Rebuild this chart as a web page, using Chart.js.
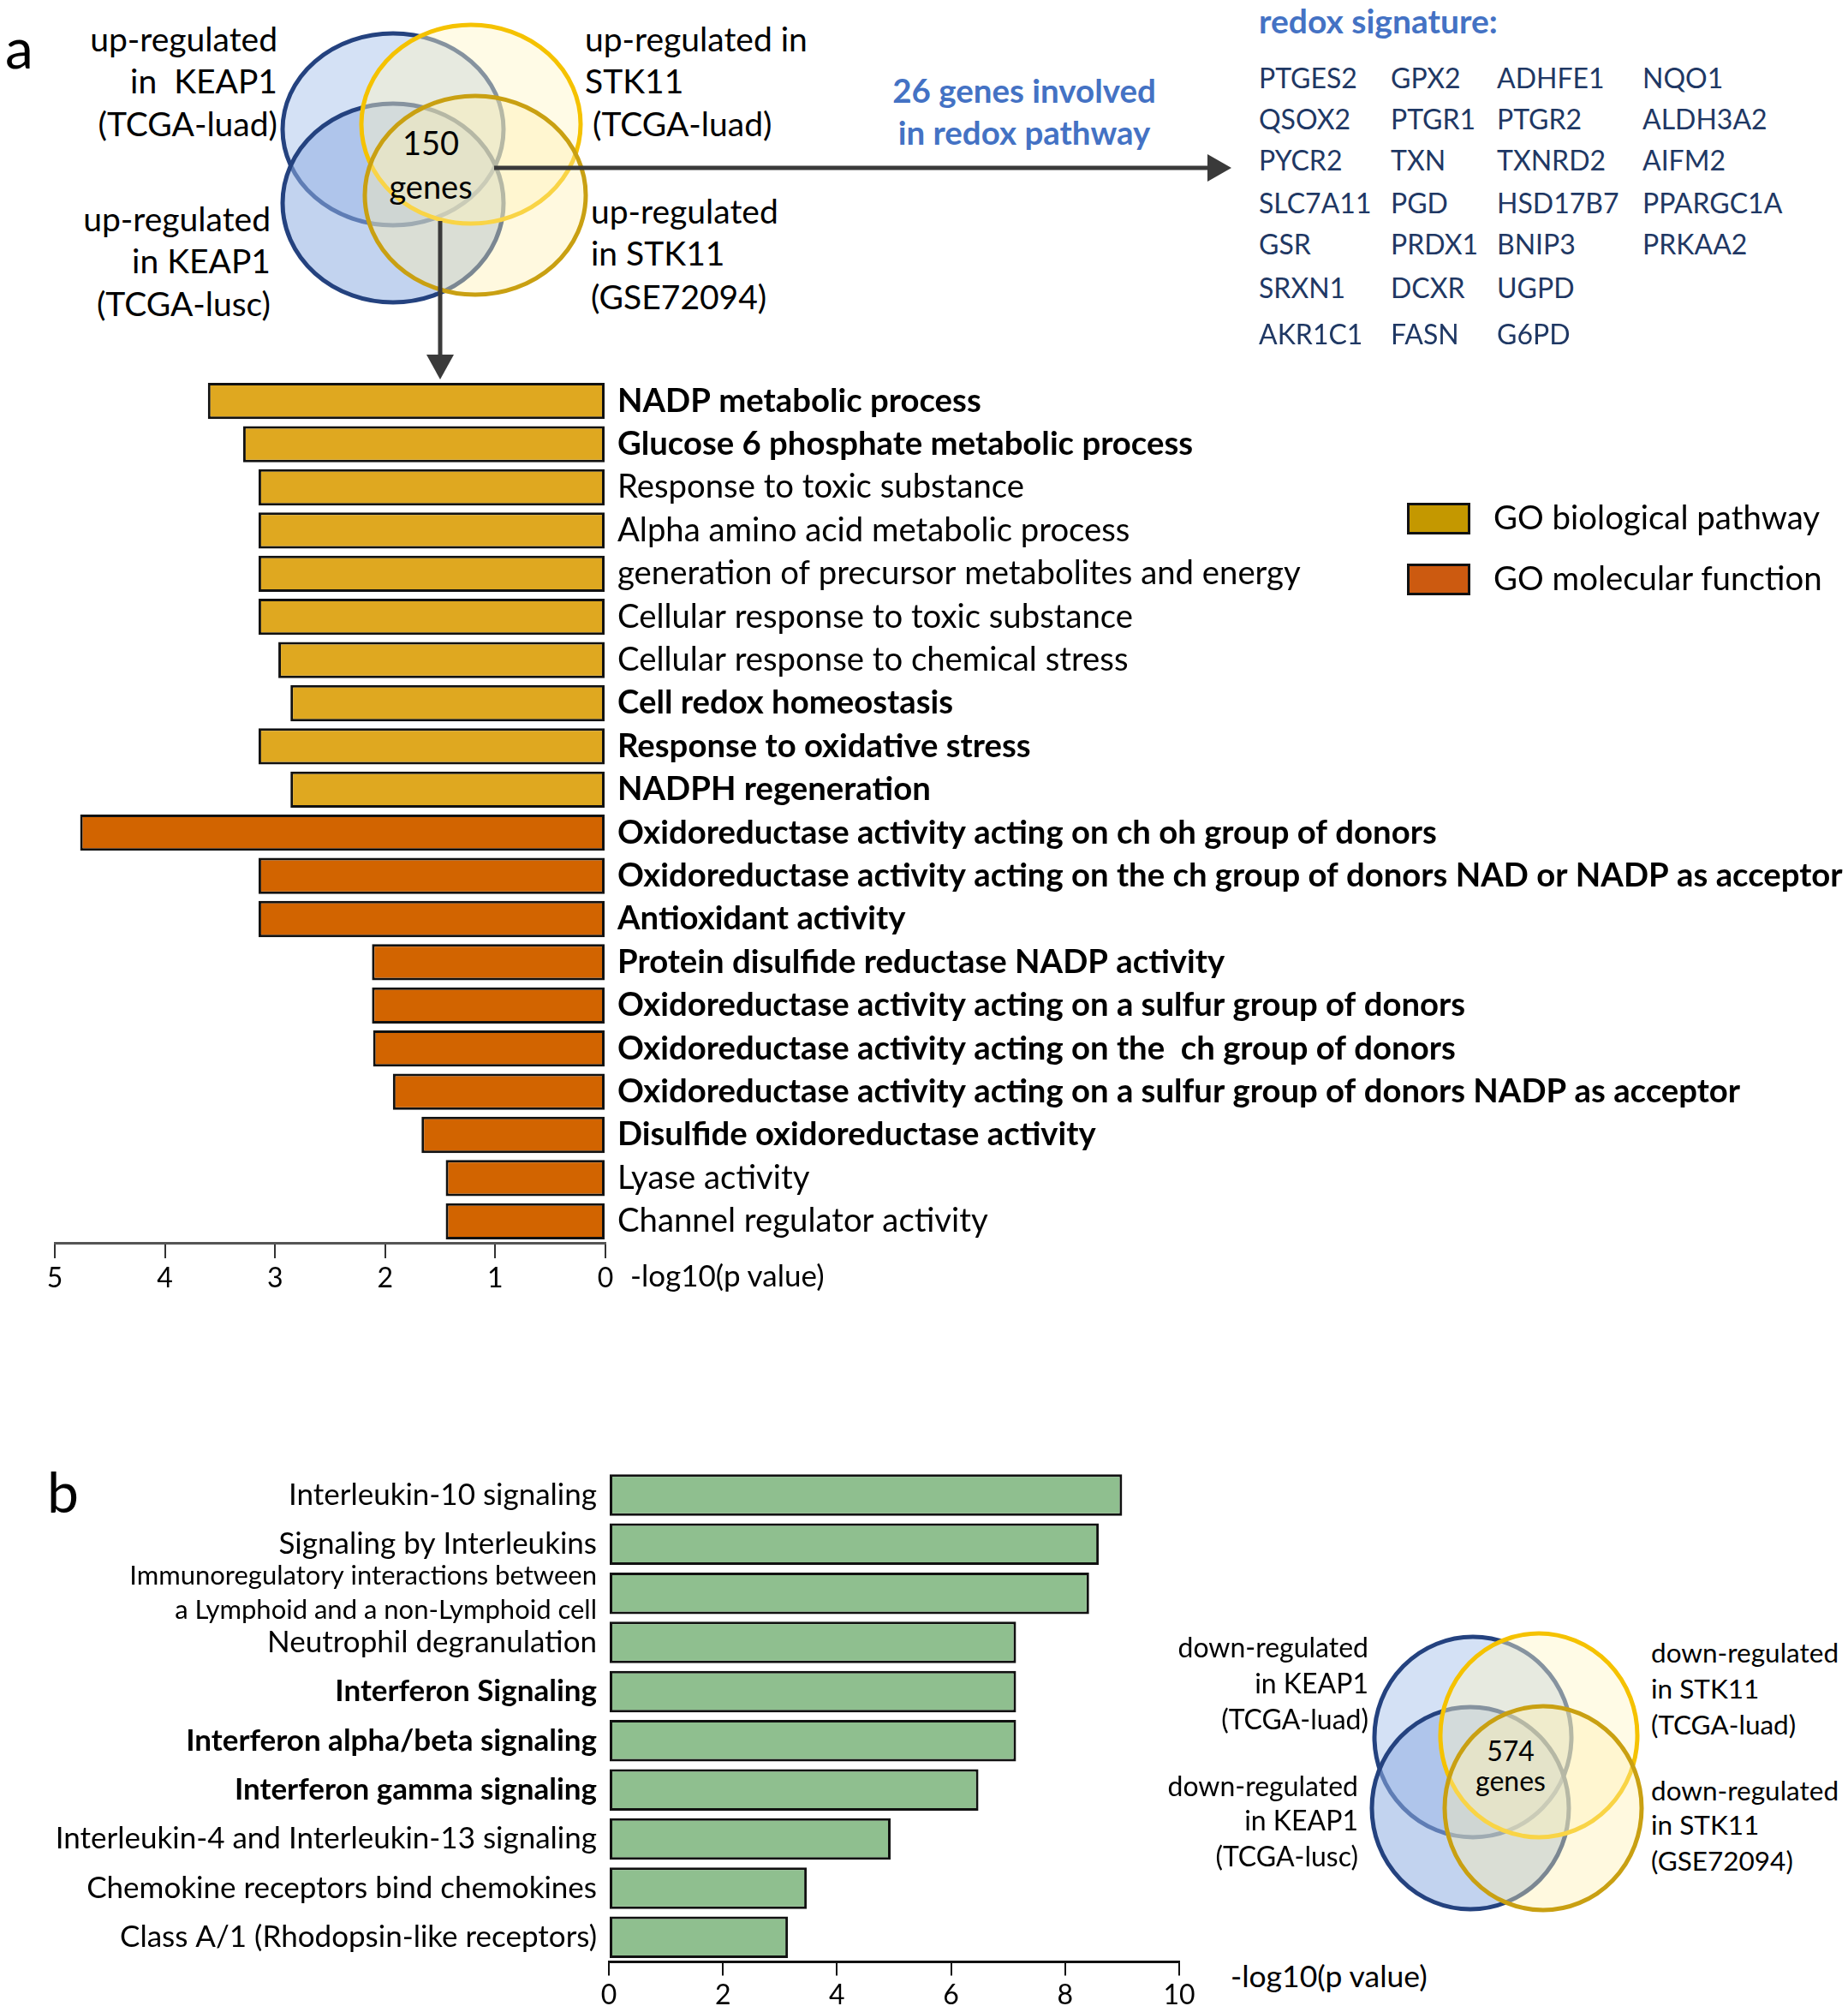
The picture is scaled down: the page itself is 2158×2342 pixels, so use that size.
<!DOCTYPE html>
<html>
<head>
<meta charset="utf-8">
<script src="https://cdn.jsdelivr.net/npm/chart.js@4.4.1/dist/chart.umd.min.js"></script>
<style>
  html, body { margin: 0; padding: 0; background: #fff; }
  #page { position: relative; width: 2158px; height: 2342px; overflow: hidden; background: #fff; font-family: Lato, "Open Sans", sans-serif; }
  .t { position: absolute; white-space: pre; line-height: 1; color: #000; }
  .wrap { position: absolute; }
  svg { position: absolute; left: 0; top: 0; }
</style>
</head>
<body>
<div id="page">
  <svg id="deco" width="2158" height="2342"></svg>
  <div class="wrap" id="wa" style="left:0px;top:400px;width:2158px;height:1150px;"><canvas id="ca" width="2158" height="1150"></canvas></div>
  <div class="wrap" id="wb" style="left:0px;top:1680px;width:1420px;height:662px;"><canvas id="cb" width="1420" height="662"></canvas></div>
</div>
<script>
// ---------------- DATA ----------------
const catsA = [
  "NADP metabolic process",
  "Glucose 6 phosphate metabolic process",
  "Response to toxic substance",
  "Alpha amino acid metabolic process",
  "generation of precursor metabolites and energy",
  "Cellular response to toxic substance",
  "Cellular response to chemical stress",
  "Cell redox homeostasis",
  "Response to oxidative stress",
  "NADPH regeneration",
  "Oxidoreductase activity acting on ch oh group of donors",
  "Oxidoreductase activity acting on the ch group of donors NAD or NADP as acceptor",
  "Antioxidant activity",
  "Protein disulfide reductase NADP activity",
  "Oxidoreductase activity acting on a sulfur group of donors",
  "Oxidoreductase activity acting on the  ch group of donors",
  "Oxidoreductase activity acting on a sulfur group of donors NADP as acceptor",
  "Disulfide oxidoreductase activity",
  "Lyase activity",
  "Channel regulator activity"
];
const valsA = [3.61, 3.29, 3.15, 3.15, 3.15, 3.15, 2.97, 2.86, 3.15, 2.86,
               4.77, 3.15, 3.15, 2.12, 2.12, 2.11, 1.93, 1.67, 1.45, 1.45];
const groupA = ["bio","bio","bio","bio","bio","bio","bio","bio","bio","bio",
                "mol","mol","mol","mol","mol","mol","mol","mol","mol","mol"];
const boldA = [1,1,0,0,0,0,0,1,1,1, 1,1,1,1,1,1,1,1,0,0];
const legendA = ["GO biological pathway", "GO molecular function"];
const ticksA = [0, 1, 2, 3, 4, 5];

const catsB = [
  "Interleukin-10 signaling",
  "Signaling by Interleukins",
  ["Immunoregulatory interactions between", "a Lymphoid and a non-Lymphoid cell"],
  "Neutrophil degranulation",
  "Interferon Signaling",
  "Interferon alpha/beta signaling",
  "Interferon gamma signaling",
  "Interleukin-4 and Interleukin-13 signaling",
  "Chemokine receptors bind chemokines",
  "Class A/1 (Rhodopsin-like receptors)"
];
const valsB = [9.0, 8.59, 8.42, 7.14, 7.14, 7.14, 6.48, 4.94, 3.47, 3.14];
const boldB = [0,0,0,0,1,1,1,0,0,0];
const ticksB = [0, 2, 4, 6, 8, 10];

const redoxGenes = [
  ["PTGES2","GPX2","ADHFE1","NQO1"],
  ["QSOX2","PTGR1","PTGR2","ALDH3A2"],
  ["PYCR2","TXN","TXNRD2","AIFM2"],
  ["SLC7A11","PGD","HSD17B7","PPARGC1A"],
  ["GSR","PRDX1","BNIP3","PRKAA2"],
  ["SRXN1","DCXR","UGPD"],
  ["AKR1C1","FASN","G6PD"]
];

// ---------------- STYLE ----------------
const COL = { bio: "#DFA820", mol: "#D26400" };
const LEG = { bio: "#C49800", mol: "#CC5A10" };
const GREEN = "#8FBF8F";
const BLUE_TXT = "#4472C4";
const NAVY_TXT = "#1F3864";

const page = document.getElementById("page");
function txt(s, x, y, o) {
  o = o || {};
  const d = document.createElement("div");
  d.className = "t";
  d.textContent = s;
  d.style.left = x + "px";
  d.style.top = (y - 3) + "px";
  d.style.fontSize = (o.size || 36) + "px";
  d.style.fontWeight = o.weight || "normal";
  if (o.color) d.style.color = o.color;
  const tx = o.align === "right" ? "-100%" : (o.align === "center" ? "-50%" : "0");
  d.style.transform = "translate(" + tx + ",-50%)";
  page.appendChild(d);
}

// --------------- SVG decorations (Venn diagrams, arrows) ---------------
const svg = document.getElementById("deco");
const NS = "http://www.w3.org/2000/svg";
function ell(cx, cy, rx, ry, fill, fop, stroke) {
  const e = document.createElementNS(NS, "ellipse");
  e.setAttribute("cx", cx); e.setAttribute("cy", cy);
  e.setAttribute("rx", rx); e.setAttribute("ry", ry);
  e.setAttribute("fill", fill); e.setAttribute("fill-opacity", fop);
  e.setAttribute("stroke", stroke); e.setAttribute("stroke-width", 5);
  svg.appendChild(e);
}
function venn(b1, b2, y1, y2) {
  ell(b1[0], b1[1], b1[2], b1[3], "#B7CDEE", 0.6, "#24427F");
  ell(b2[0], b2[1], b2[2], b2[3], "#8FAEE2", 0.55, "#24427F");
  ell(y1[0], y1[1], y1[2], y1[3], "#FFF6C8", 0.45, "#F5C200");
  ell(y2[0], y2[1], y2[2], y2[3], "#FFF0B0", 0.4, "#C9A012");
}
venn([459,151,129,112],[459,237,129,116],[550,145,128,116],[555,228,129,116]);
venn([1720,2028,115,117],[1717,2111,115,118],[1797,2026,115,119],[1802,2111,115,119]);

function line(x1,y1,x2,y2) {
  const l = document.createElementNS(NS, "line");
  l.setAttribute("x1",x1); l.setAttribute("y1",y1); l.setAttribute("x2",x2); l.setAttribute("y2",y2);
  l.setAttribute("stroke","#3A3A3A"); l.setAttribute("stroke-width",5);
  svg.appendChild(l);
}
function poly(pts) {
  const p = document.createElementNS(NS, "polygon");
  p.setAttribute("points", pts); p.setAttribute("fill", "#3A3A3A");
  svg.appendChild(p);
}
line(577,196,1412,196); poly("1410,180 1438,196 1410,212");
line(514,258,514,416); poly("498,414 514,443 530,414");

// --------------- Texts ---------------
txt("a", 6, 58, {size: 66});
txt("b", 55, 1744, {size: 66});

txt("up-regulated", 324, 48, {align: "right", size: 39});
txt("in  KEAP1", 324, 97, {align: "right", size: 39});
txt("(TCGA-luad)", 324, 147, {align: "right", size: 39});
txt("up-regulated", 316, 258, {align: "right", size: 39});
txt("in KEAP1", 316, 307, {align: "right", size: 39});
txt("(TCGA-lusc)", 316, 357, {align: "right", size: 39});
txt("up-regulated in", 683, 48, {size: 39});
txt("STK11", 683, 97, {size: 39});
txt("(TCGA-luad)", 692, 147, {size: 39});
txt("up-regulated", 690, 249, {size: 39});
txt("in STK11", 690, 298, {size: 39});
txt("(GSE72094)", 690, 349, {size: 39});
txt("150", 503, 169, {align: "center", size: 38});
txt("genes", 503, 220, {align: "center", size: 38});

txt("26 genes involved", 1196, 108, {align: "center", weight: "bold", color: BLUE_TXT, size: 38.5});
txt("in redox pathway", 1196, 157, {align: "center", weight: "bold", color: BLUE_TXT, size: 38.5});
txt("redox signature:", 1470, 27, {weight: "bold", color: BLUE_TXT, size: 39});
const geneX = [1470, 1624, 1748, 1918];
const geneY = [94, 142, 190, 240, 288, 339, 393];
redoxGenes.forEach((row, r) => row.forEach((g, c) => txt(g, geneX[c], geneY[r], {size: 32, color: NAVY_TXT})));

// legend a
[["bio", 606], ["mol", 677]].forEach(([k, y], i) => {
  const s = document.createElement("div");
  s.style.cssText = "position:absolute;left:1643px;top:" + (y - 19) + "px;width:74px;height:37px;box-sizing:border-box;border:3px solid #111;background:" + LEG[k] + ";";
  page.appendChild(s);
  txt(legendA[i], 1744, y, {size: 38.4});
});

txt("-log10(p value)", 736, 1491, {size: 35});
txt("-log10(p value)", 1437, 2310, {size: 35.5});

txt("down-regulated", 1598, 1926, {align: "right", size: 32});
txt("in KEAP1", 1598, 1968, {align: "right", size: 32});
txt("(TCGA-luad)", 1598, 2010, {align: "right", size: 32});
txt("down-regulated", 1586, 2088, {align: "right", size: 32});
txt("in KEAP1", 1586, 2128, {align: "right", size: 32});
txt("(TCGA-lusc)", 1586, 2170, {align: "right", size: 32});
txt("down-regulated", 1928, 1933, {size: 31.5});
txt("in STK11", 1928, 1975, {size: 31.5});
txt("(TCGA-luad)", 1928, 2017, {size: 31.5});
txt("down-regulated", 1928, 2094, {size: 31.5});
txt("in STK11", 1928, 2134, {size: 31.5});
txt("(GSE72094)", 1928, 2176, {size: 31.5});
txt("574", 1764, 2047, {align: "center", size: 32});
txt("genes", 1764, 2082, {align: "center", size: 32});

// --------------- Charts ---------------
Chart.defaults.font.family = "Lato";
Chart.defaults.color = "#000";

new Chart(document.getElementById("ca"), {
  type: "bar",
  data: {
    labels: catsA,
    datasets: [{
      data: valsA,
      backgroundColor: groupA.map(g => COL[g]),
      borderColor: "#111",
      borderWidth: 3,
      borderSkipped: false,
      barPercentage: 0.84,
      categoryPercentage: 1.0
    }]
  },
  options: {
    indexAxis: "y",
    responsive: false,
    devicePixelRatio: 1,
    animation: false,
    layout: { padding: { left: 64, top: 43, right: 0, bottom: 0 } },
    plugins: { legend: { display: false }, tooltip: { enabled: false } },
    scales: {
      x: {
        type: "linear", reverse: true, min: 0, max: 5,
        afterBuildTicks: s => { s.ticks = ticksA.map(v => ({ value: v })); },
        afterFit: s => { s.height = 99; },
        grid: { display: true, drawOnChartArea: false, tickLength: 18, color: "#333", lineWidth: 2 },
        border: { display: true, color: "#555", width: 3 },
        ticks: { font: { size: 32 }, padding: 4, color: "#000" }
      },
      y: {
        position: "right",
        afterFit: s => { s.width = 1451; },
        grid: { display: false, drawTicks: false },
        border: { display: false },
        ticks: {
          padding: 14, color: "#000", autoSkip: false,
          font: ctx => ({ size: 38.3, weight: boldA[ctx.index] ? "bold" : "normal" })
        }
      }
    }
  }
});

new Chart(document.getElementById("cb"), {
  type: "bar",
  data: {
    labels: catsB,
    datasets: [{
      data: valsB,
      backgroundColor: GREEN,
      borderColor: "#111",
      borderWidth: 3,
      borderSkipped: false,
      barPercentage: 0.845,
      categoryPercentage: 1.0
    }]
  },
  options: {
    indexAxis: "y",
    responsive: false,
    devicePixelRatio: 1,
    animation: false,
    layout: { padding: { left: 0, top: 30.5, right: 43, bottom: 0 } },
    plugins: { legend: { display: false }, tooltip: { enabled: false } },
    scales: {
      x: {
        type: "linear", min: 0, max: 10,
        afterBuildTicks: s => { s.ticks = ticksB.map(v => ({ value: v })); },
        afterFit: s => { s.height = 51.5; },
        grid: { display: true, drawOnChartArea: false, tickLength: 16, color: "#111", lineWidth: 2 },
        border: { display: true, color: "#111", width: 3 },
        ticks: { font: { size: 32 }, padding: 4, color: "#000" }
      },
      y: {
        position: "left",
        afterFit: s => { s.width = 711; },
        grid: { display: false, drawTicks: false },
        border: { display: false },
        ticks: {
          padding: 14, color: "#000", autoSkip: false,
          font: ctx => ({ size: ctx.index === 2 ? 31 : 35, weight: boldB[ctx.index] ? "bold" : "normal", lineHeight: 1.3 })
        }
      }
    }
  }
});
</script>
</body>
</html>
